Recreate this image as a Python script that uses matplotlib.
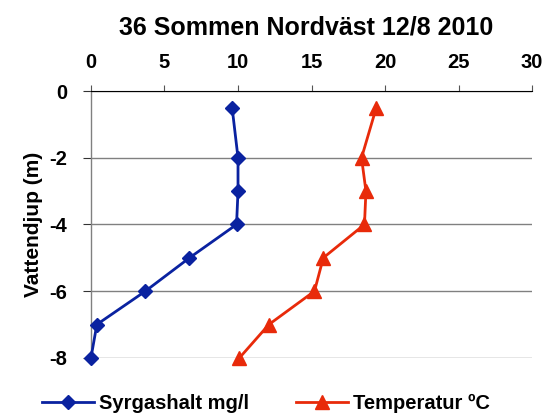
import matplotlib
matplotlib.use('Agg')
import matplotlib.pyplot as plt

plt.rcParams['font.family'] = ['Liberation Sans', 'DejaVu Sans']
plt.rcParams['font.weight'] = 'bold'
plt.rcParams['axes.unicode_minus'] = False

depth = [-0.5, -2, -3, -4, -5, -6, -7, -8]
syrgas = [9.6, 10.0, 10.0, 9.9, 6.7, 3.7, 0.4, 0.0]
temp = [19.4, 18.4, 18.7, 18.6, 15.8, 15.2, 12.1, 10.1]

fig = plt.figure(figsize=(5.48, 4.2), dpi=100)
ax = fig.add_axes([0.166, 0.148, 0.805, 0.635])

ax.plot(syrgas, depth, color='#0A22A0', linewidth=2.0, marker='D', markersize=7.5,
        label='Syrgashalt mg/l', clip_on=False, zorder=3)
ax.plot(temp, depth, color='#E82A0A', linewidth=2.0, marker='^', markersize=10.5,
        label='Temperatur ºC', clip_on=False, zorder=3)

ax.set_xlim(0, 30)
ax.set_ylim(-8, 0)
ax.set_xticks([0, 5, 10, 15, 20, 25, 30])
ax.set_yticks([0, -2, -4, -6, -8])
ax.xaxis.tick_top()
ax.tick_params(axis='x', direction='out', length=4, width=0.8, color='#555555',
               labelsize=14.5, pad=10)
ax.tick_params(axis='y', direction='out', length=6, width=0.8, color='#333333',
               labelsize=14.5, pad=11)
for lab in ax.get_xticklabels() + ax.get_yticklabels():
    lab.set_fontweight('bold')

ax.yaxis.grid(True, color='#808080', linewidth=1.0)
ax.set_axisbelow(True)
ax.spines['right'].set_visible(False)
ax.spines['bottom'].set_visible(False)
ax.spines['top'].set_color('black')
ax.spines['top'].set_linewidth(0.8)
ax.spines['left'].set_color('#808080')
ax.spines['left'].set_linewidth(1.0)

ax.set_ylabel('Vattendjup (m)', fontsize=15, fontweight='bold', labelpad=5)
fig.suptitle('36 Sommen Nordväst 12/8 2010', fontsize=18, fontweight='bold',
             x=0.559, y=0.963)

fig.legend(loc='center', bbox_to_anchor=(0.485, 0.04), ncol=2, frameon=False,
           handlelength=2.6, handletextpad=0.25, columnspacing=2.3,
           prop={'weight': 'bold', 'size': 14.5})

fig.savefig('out.png', dpi=100)
